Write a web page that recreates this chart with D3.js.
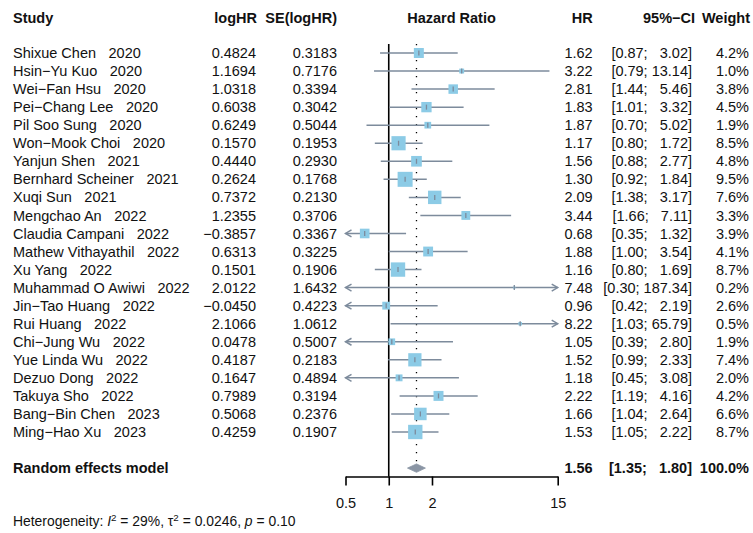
<!DOCTYPE html>
<html>
<head>
<meta charset="utf-8">
<script src="https://cdn.jsdelivr.net/npm/d3@7/dist/d3.min.js"></script>
<style>
  html, body { margin: 0; padding: 0; background: #fff; }
  svg { display: block; }
  text { font-family: "Liberation Sans", Arial, Helvetica, sans-serif; fill: #111; }
</style>
</head>
<body>
<script>
// Study-level results of the meta-analysis
const studies = ["Shixue Chen", "Hsin−Yu Kuo", "Wei−Fan Hsu", "Pei−Chang Lee", "Pil Soo Sung",
  "Won−Mook Choi", "Yanjun Shen", "Bernhard Scheiner", "Xuqi Sun", "Mengchao An",
  "Claudia Campani", "Mathew Vithayathil", "Xu Yang", "Muhammad O Awiwi", "Jin−Tao Huang",
  "Rui Huang", "Chi−Jung Wu", "Yue Linda Wu", "Dezuo Dong", "Takuya Sho",
  "Bang−Bin Chen", "Ming−Hao Xu"];
const years = [2020, 2020, 2020, 2020, 2020, 2020, 2021, 2021, 2021, 2022, 2022, 2022, 2022,
  2022, 2022, 2022, 2022, 2022, 2022, 2022, 2023, 2023];
const logHR = [0.4824, 1.1694, 1.0318, 0.6038, 0.6249, 0.1570, 0.4440, 0.2624, 0.7372, 1.2355,
  -0.3857, 0.6313, 0.1501, 2.0122, -0.0450, 2.1066, 0.0478, 0.4187, 0.1647, 0.7989, 0.5068, 0.4259];
const seLogHR = [0.3183, 0.7176, 0.3394, 0.3042, 0.5044, 0.1953, 0.2930, 0.1768, 0.2130, 0.3706,
  0.3367, 0.3225, 0.1906, 1.6432, 0.4223, 1.0612, 0.5007, 0.2183, 0.4894, 0.3194, 0.2376, 0.1907];
const hr = [1.62, 3.22, 2.81, 1.83, 1.87, 1.17, 1.56, 1.30, 2.09, 3.44, 0.68, 1.88, 1.16, 7.48,
  0.96, 8.22, 1.05, 1.52, 1.18, 2.22, 1.66, 1.53];
const ciLower = [0.87, 0.79, 1.44, 1.01, 0.70, 0.80, 0.88, 0.92, 1.38, 1.66, 0.35, 1.00, 0.80, 0.30,
  0.42, 1.03, 0.39, 0.99, 0.45, 1.19, 1.04, 1.05];
const ciUpper = [3.02, 13.14, 5.46, 3.32, 5.02, 1.72, 2.77, 1.84, 3.17, 7.11, 1.32, 3.54, 1.69, 187.34,
  2.19, 65.79, 2.80, 2.33, 3.08, 4.16, 2.64, 2.22];
const weights = [4.2, 1.0, 3.8, 4.5, 1.9, 8.5, 4.8, 9.5, 7.6, 3.3, 3.9, 4.1, 8.7, 0.2, 2.6, 0.5,
  1.9, 7.4, 2.0, 4.2, 6.6, 8.7];

// Pooled random effects estimate
const pooledHR = 1.56;
const pooledLower = 1.35;
const pooledUpper = 1.80;
const pooledWeight = 100.0;

// Axis ticks and heterogeneity statistics
const axisTicks = [0.5, 1, 2, 15];
const hetI2 = "29%";
const hetTau2 = "0.0246";
const hetP = "0.10";

const W = 753, H = 533;
const FS = 14.5;
const lineCol = "#7d8b9c";
const boxCol = "#8ccbe6";
const diamondCol = "#8a95a4";

const svg = d3.select("body").append("svg").attr("width", W).attr("height", H);

const x = d3.scaleLog().domain([0.5, 15]).range([345.5, 557.7]);
const y = d3.scaleLinear().domain([0, 21]).range([53, 432]);
const rows = d3.range(studies.length);
const pooledRow = 23;
const axisY = 476.5;

const fmt4 = d3.format(".4f");
const fmt2 = d3.format(".2f");
const fmt1 = d3.format(".1f");
const ciText = (lo, up) => "[" + fmt2(lo) + "; " + fmt2(up).padStart(5, "\u2007") + "]";

// Column headers
const header = svg.append("g").attr("font-weight", "bold").attr("font-size", FS);
const hy = y(-2) + 1.5;
[["Study", 13, "start"], ["logHR", 257, "end"], ["SE(logHR)", 337, "end"],
 ["Hazard Ratio", 451.5, "middle"], ["HR", 592.7, "end"], ["95%−CI", 695, "end"],
 ["Weight", 750, "end"]].forEach(([t, px, a]) => {
  header.append("text").attr("x", px).attr("y", hy).attr("dy", "0.35em")
    .attr("text-anchor", a).text(t);
});

// Line of no effect
svg.append("line")
  .attr("x1", x(1)).attr("x2", x(1))
  .attr("y1", y(-0.5)).attr("y2", axisY)
  .attr("stroke", "#000").attr("stroke-width", 1.6);

// Pooled estimate reference line
svg.append("line")
  .attr("x1", x(pooledHR)).attr("x2", x(pooledHR))
  .attr("y1", y(-0.5)).attr("y2", y(pooledRow) - 5)
  .attr("stroke", "#000").attr("stroke-width", 1.3)
  .attr("stroke-dasharray", "1.3 6.7");

// Study rows: labels and numbers
const tbl = svg.append("g").attr("font-size", FS);
rows.forEach(i => {
  const ty = y(i);
  const lab = tbl.append("text").attr("x", 13).attr("y", ty).attr("dy", "0.35em");
  lab.append("tspan").text(studies[i]);
  lab.append("tspan").attr("dx", 12.5).text(years[i]);
  tbl.append("text").attr("x", 256).attr("y", ty).attr("dy", "0.35em")
    .attr("text-anchor", "end").text(fmt4(logHR[i]));
  tbl.append("text").attr("x", 337).attr("y", ty).attr("dy", "0.35em")
    .attr("text-anchor", "end").text(fmt4(seLogHR[i]));
  tbl.append("text").attr("x", 592.7).attr("y", ty).attr("dy", "0.35em")
    .attr("text-anchor", "end").text(fmt2(hr[i]));
  tbl.append("text").attr("x", 692).attr("y", ty).attr("dy", "0.35em")
    .attr("text-anchor", "end").style("white-space", "pre").text(ciText(ciLower[i], ciUpper[i]));
  tbl.append("text").attr("x", 749).attr("y", ty).attr("dy", "0.35em")
    .attr("text-anchor", "end").text(fmt1(weights[i]) + "%");
});

// Confidence intervals, clipped to the axis range with arrows
const [dMin, dMax] = x.domain();
const ci = svg.append("g").attr("stroke", lineCol).attr("stroke-width", 1.5).attr("fill", "none");
rows.forEach(i => {
  const ty = y(i);
  const lo = Math.max(ciLower[i], dMin), up = Math.min(ciUpper[i], dMax);
  ci.append("line").attr("x1", x(lo)).attr("x2", x(up)).attr("y1", ty).attr("y2", ty);
  if (ciLower[i] < dMin) {
    const ax = x(dMin);
    ci.append("path").attr("d", `M${ax + 6},${ty - 3.5}L${ax},${ty}L${ax + 6},${ty + 3.5}`);
  }
  if (ciUpper[i] > dMax) {
    const ax = x(dMax);
    ci.append("path").attr("d", `M${ax - 6},${ty - 3.5}L${ax},${ty}L${ax - 6},${ty + 3.5}`);
  }
});

// Weighted squares with point-estimate ticks
const maxW = d3.max(weights);
const side = d3.scaleSqrt().domain([0, maxW]).range([0, 15]);
rows.forEach(i => {
  const ty = y(i), cx = x(hr[i]), s = side(weights[i]);
  svg.append("rect").attr("x", cx - s / 2).attr("y", ty - s / 2)
    .attr("width", s).attr("height", s).attr("fill", boxCol);
  svg.append("line").attr("x1", cx).attr("x2", cx).attr("y1", ty - 2.5).attr("y2", ty + 2.5)
    .attr("stroke", lineCol).attr("stroke-width", 1.3);
});

// Random effects model row
const py = y(pooledRow);
const pooled = svg.append("g").attr("font-size", FS).attr("font-weight", "bold");
pooled.append("text").attr("x", 13).attr("y", py).attr("dy", "0.35em").text("Random effects model");
pooled.append("text").attr("x", 592.7).attr("y", py).attr("dy", "0.35em")
  .attr("text-anchor", "end").text(fmt2(pooledHR));
pooled.append("text").attr("x", 692).attr("y", py).attr("dy", "0.35em")
  .attr("text-anchor", "end").style("white-space", "pre").text(ciText(pooledLower, pooledUpper));
pooled.append("text").attr("x", 749).attr("y", py).attr("dy", "0.35em")
  .attr("text-anchor", "end").text(fmt1(pooledWeight) + "%");

svg.append("path")
  .attr("d", `M${x(pooledLower)},${py}L${x(pooledHR)},${py - 4.2}L${x(pooledUpper)},${py}L${x(pooledHR)},${py + 4.2}Z`)
  .attr("fill", diamondCol).attr("stroke", diamondCol).attr("stroke-width", 0.8);

// Log-scale x axis
const axis = d3.axisBottom(x).tickValues(axisTicks).tickFormat(d => String(d))
  .tickSize(9).tickSizeOuter(0).tickPadding(12);
const ag = svg.append("g").attr("transform", `translate(0,${axisY})`).call(axis);
ag.selectAll("path, line").attr("stroke", "#000").attr("stroke-width", 1.6);
ag.selectAll("text").attr("font-size", FS).attr("fill", "#111")
  .attr("font-family", "\"Liberation Sans\", Arial, sans-serif");

// Heterogeneity statistics
const het = svg.append("text").attr("x", 13).attr("y", 521).attr("dy", "0.35em").attr("font-size", 13.9);
het.append("tspan").text("Heterogeneity: ");
het.append("tspan").attr("font-style", "italic").text("I");
het.append("tspan").attr("font-size", 9.8).attr("dy", -5).text("2");
het.append("tspan").attr("dy", 5).text(" = " + hetI2 + ", τ");
het.append("tspan").attr("font-size", 9.8).attr("dy", -5).text("2");
het.append("tspan").attr("dy", 5).text(" = " + hetTau2 + ", ");
het.append("tspan").attr("font-style", "italic").text("p");
het.append("tspan").text(" = " + hetP);
</script>
</body>
</html>
